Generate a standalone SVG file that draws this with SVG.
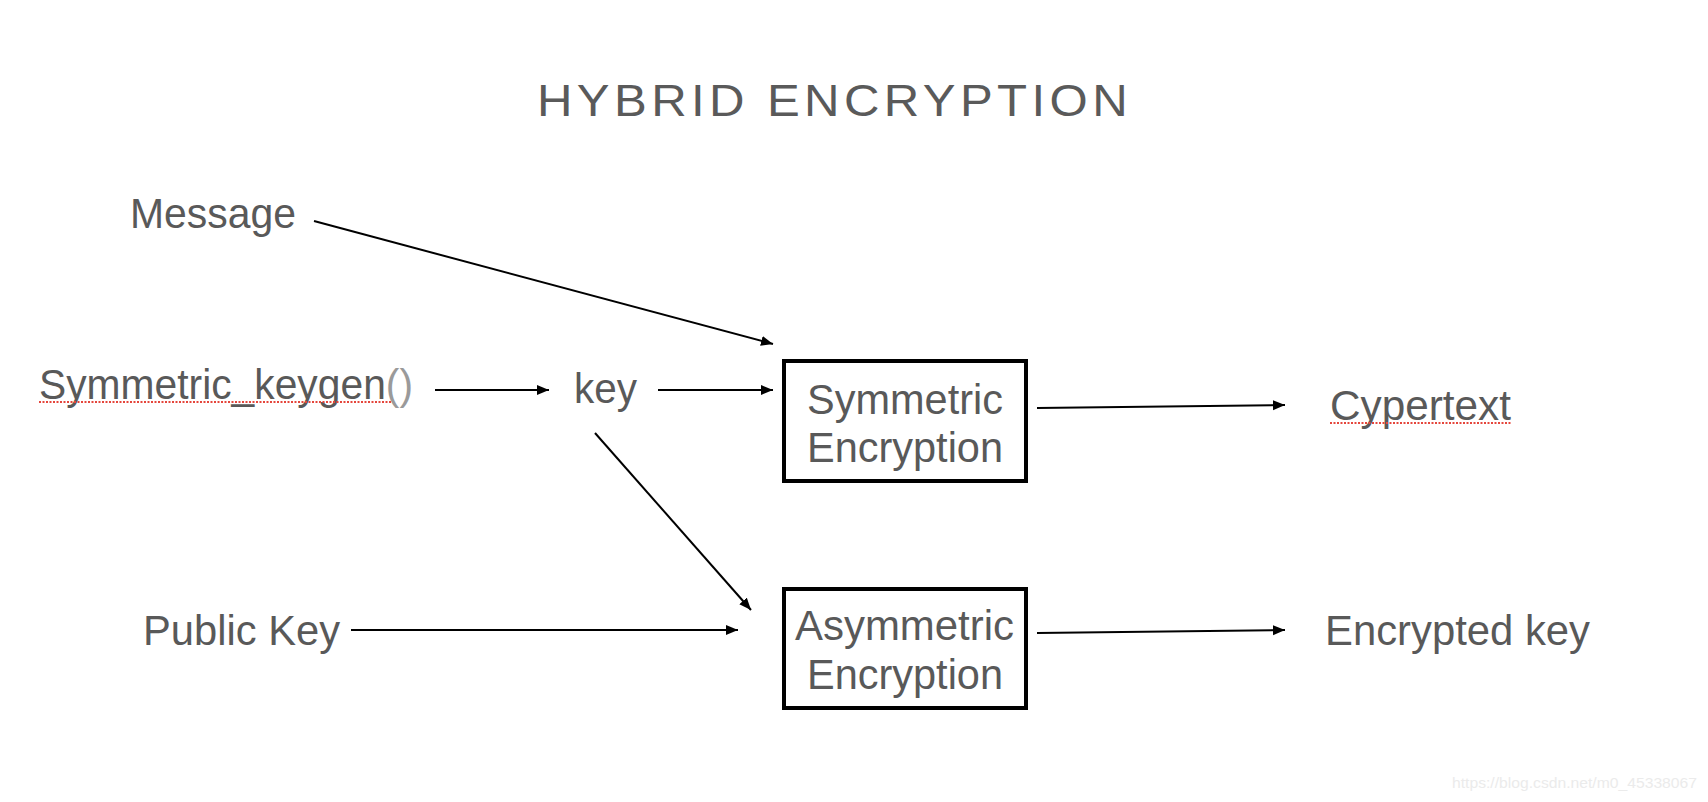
<svg xmlns="http://www.w3.org/2000/svg" width="1708" height="802" viewBox="0 0 1708 802">
<defs>
<marker id="ah" markerUnits="userSpaceOnUse" markerWidth="14" markerHeight="12" refX="12" refY="5" orient="auto">
<path d="M0,0 L12,5 L0,10 Z" fill="#000"/>
</marker>
<style>
.t{font-family:"Liberation Sans",Arial,sans-serif;font-size:43px;fill:#595959}
.title{font-family:"Liberation Sans",Arial,sans-serif;font-size:45px;fill:#5a5a5a;letter-spacing:4px}
.c{stroke:#000;stroke-width:2;fill:none;marker-end:url(#ah)}
.box{fill:#fff;stroke:#000;stroke-width:4}
.sq{stroke:#e5463c;stroke-width:2;stroke-dasharray:2 1.5;fill:none}
.wm{font-family:"Liberation Sans",Arial,sans-serif;font-size:15px;fill:#ebebeb}
</style>
</defs>
<rect width="1708" height="802" fill="#fff"/>
<g id="title"><text class="title" x="537" y="116" textLength="595" lengthAdjust="spacingAndGlyphs">HYBRID ENCRYPTION</text></g>
<g id="connectors">
<line class="c" x1="314" y1="221" x2="773" y2="344"/>
<line class="c" x1="435" y1="390" x2="549" y2="390"/>
<line class="c" x1="658" y1="390" x2="773" y2="390"/>
<line class="c" x1="595" y1="433" x2="751" y2="610"/>
<line class="c" x1="351" y1="630" x2="738" y2="630"/>
<line class="c" x1="1037" y1="408" x2="1285" y2="405"/>
<line class="c" x1="1037" y1="633" x2="1285" y2="630"/>
</g>
<g id="message"><text class="t" x="130" y="228" textLength="166" lengthAdjust="spacingAndGlyphs">Message</text></g>
<g id="keygen">
<text class="t" x="39" y="399" textLength="374" lengthAdjust="spacingAndGlyphs">Symmetric_keygen<tspan fill="#9a9a9a">()</tspan></text>
<line class="sq" x1="39" y1="402" x2="392" y2="402"/>
</g>
<g id="key"><text class="t" x="574" y="403" textLength="63" lengthAdjust="spacingAndGlyphs">key</text></g>
<g id="public-key"><text class="t" x="143" y="645" textLength="197" lengthAdjust="spacingAndGlyphs">Public Key</text></g>
<g id="symmetric-encryption">
<rect class="box" x="784" y="361" width="242" height="120"/>
<text class="t" x="807" y="414" textLength="196" lengthAdjust="spacingAndGlyphs">Symmetric</text>
<text class="t" x="807" y="462" textLength="196" lengthAdjust="spacingAndGlyphs">Encryption</text>
</g>
<g id="asymmetric-encryption">
<rect class="box" x="784" y="589" width="242" height="119"/>
<text class="t" x="795" y="640" textLength="219" lengthAdjust="spacingAndGlyphs">Asymmetric</text>
<text class="t" x="807" y="689" textLength="196" lengthAdjust="spacingAndGlyphs">Encryption</text>
</g>
<g id="cypertext">
<text class="t" x="1330" y="420" textLength="181" lengthAdjust="spacingAndGlyphs">Cypertext</text>
<line class="sq" x1="1330" y1="423" x2="1511" y2="423"/>
</g>
<g id="encrypted-key"><text class="t" x="1325" y="645" textLength="265" lengthAdjust="spacingAndGlyphs">Encrypted key</text></g>
<g id="watermark"><text class="wm" x="1452" y="788" textLength="245" lengthAdjust="spacingAndGlyphs">https://blog.csdn.net/m0_45338067</text></g>
</svg>
